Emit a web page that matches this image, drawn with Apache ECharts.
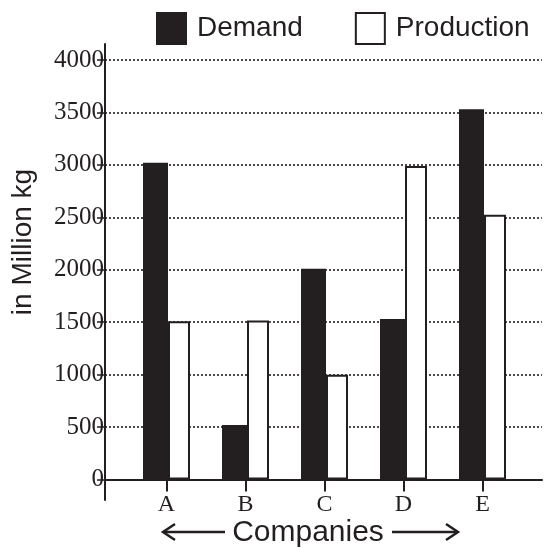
<!DOCTYPE html>
<html>
<head>
<meta charset="utf-8">
<script src="https://cdn.jsdelivr.net/npm/echarts@6/dist/echarts.min.js"></script>
<style>
html,body{margin:0;padding:0;background:#fff;}
#chart{width:547px;height:554px;}
</style>
</head>
<body>
<div id="chart"></div>
<script>
var categories = ['A', 'B', 'C', 'D', 'E'];
var demand = [3020, 520, 2010, 1530, 3530];
var production = [1510, 1515, 1000, 2990, 2525];
var yTicks = [0, 500, 1000, 1500, 2000, 2500, 3000, 3500, 4000];

var INK = '#231f20';
var chart = echarts.init(document.getElementById('chart'), null, {renderer: 'canvas'});

var option = {
  backgroundColor: '#ffffff',
  animation: false,
  legend: {
    left: 151, top: 7,
    itemWidth: 29, itemHeight: 31, itemGap: 52,
    icon: 'rect',
    textStyle: {fontFamily: 'Liberation Sans', fontSize: 28, color: INK, padding: [0, 0, 0, 6]},
    data: ['Demand', 'Production']
  },
  grid: [
    {left: 105, right: 5, top: 44, bottom: 54},
    {left: 105, right: 5, top: 60, bottom: 74.5},
    {left: 127, right: 25, top: 60, bottom: 74.5}
  ],
  xAxis: [
    {gridIndex: 0, type: 'value', min: 0, max: 1, show: false},
    {gridIndex: 1, type: 'value', min: 0, max: 1,
     axisLine: {show: true, lineStyle: {color: INK, width: 2}},
     axisTick: {show: false}, axisLabel: {show: false}, splitLine: {show: false}},
    {gridIndex: 2, type: 'category', data: categories,
     axisLine: {show: false},
     axisTick: {show: true, alignWithLabel: true, length: 12, lineStyle: {color: INK, width: 2}},
     axisLabel: {fontFamily: 'Liberation Serif', fontSize: 24, color: INK, margin: 13},
     splitLine: {show: false}}
  ],
  yAxis: [
    {gridIndex: 0, type: 'value', min: 0, max: 1,
     axisLine: {show: true, lineStyle: {color: INK, width: 2}},
     axisTick: {show: false}, axisLabel: {show: false}, splitLine: {show: false}},
    {gridIndex: 1, type: 'value', min: yTicks[0], max: yTicks[yTicks.length - 1], interval: 500,
     axisLine: {show: false},
     axisTick: {show: true, length: 8, lineStyle: {color: INK, width: 1.5}},
     axisLabel: {fontFamily: 'Liberation Serif', fontSize: 25, color: INK, margin: 1,
                 formatter: function (v) { return String(v); }},
     splitLine: {show: true, lineStyle: {color: INK, width: 1.6, type: [2, 2]}}},
    {gridIndex: 2, type: 'value', min: 0, max: 4000, show: false}
  ],
  series: [
    {name: 'Demand', type: 'bar', xAxisIndex: 2, yAxisIndex: 2, data: demand,
     barWidth: 25, barGap: 0,
     itemStyle: {color: INK, borderColor: INK, borderWidth: 2}},
    {name: 'Production', type: 'bar', xAxisIndex: 2, yAxisIndex: 2, data: production,
     barWidth: 22, barGap: 0,
     itemStyle: {color: '#ffffff', borderColor: INK, borderWidth: 2}}
  ],
  graphic: [
    {type: 'text', x: 23, y: 242, rotation: Math.PI / 2,
     style: {text: 'in Million kg', fontFamily: 'Liberation Sans', fontSize: 28, fill: INK,
             align: 'center', verticalAlign: 'middle'}},
    {type: 'text', x: 308, y: 533,
     style: {text: 'Companies', fontFamily: 'Liberation Sans', fontSize: 30, fill: INK,
             align: 'center', verticalAlign: 'middle'}},
    {type: 'line', shape: {x1: 163, y1: 532, x2: 225, y2: 532}, style: {stroke: INK, lineWidth: 2.5}},
    {type: 'polyline', shape: {points: [[175, 524], [163, 532], [175, 540]]}, style: {stroke: INK, lineWidth: 2.5, fill: null}},
    {type: 'line', shape: {x1: 392, y1: 532, x2: 458, y2: 532}, style: {stroke: INK, lineWidth: 2.5}},
    {type: 'polyline', shape: {points: [[446, 524], [458, 532], [446, 540]]}, style: {stroke: INK, lineWidth: 2.5, fill: null}}
  ]
};
chart.setOption(option);
</script>
</body>
</html>
